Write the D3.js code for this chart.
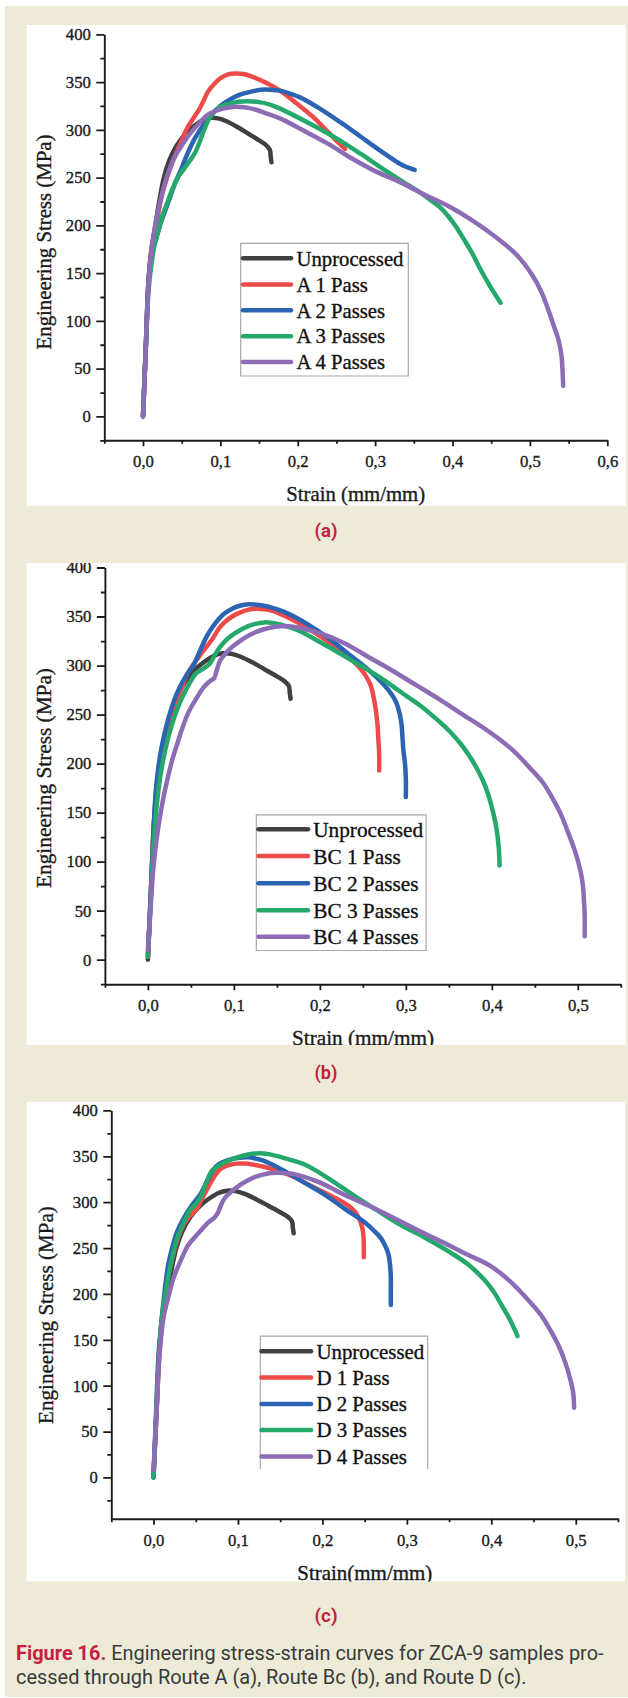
<!DOCTYPE html>
<html><head><meta charset="utf-8">
<script src="https://cdn.jsdelivr.net/npm/d3@7"></script>
<style>html,body{margin:0;padding:0;background:#fff;} svg{display:block;}</style>
</head><body>
<svg id="fig" width="628" height="1698"></svg>
<script>
// ---------- DATA ----------
const stressTicks = [0, 50, 100, 150, 200, 250, 300, 350, 400];
const stressMinor = [-25, 25, 75, 125, 175, 225, 275, 325, 375];
const strainTicksA = [0, 0.1, 0.2, 0.3, 0.4, 0.5, 0.6];
const strainMinorA = [-0.05, 0.05, 0.15, 0.25, 0.35, 0.45, 0.55];
const strainTicksBC = [0, 0.1, 0.2, 0.3, 0.4, 0.5];
const strainMinorBC = [-0.05, 0.05, 0.15, 0.25, 0.35, 0.45, 0.55];

const namesA = ["Unprocessed", "A 1 Pass", "A 2 Passes", "A 3 Passes", "A 4 Passes"];
const namesB = ["Unprocessed", "BC 1 Pass", "BC 2 Passes", "BC 3 Passes", "BC 4 Passes"];
const namesD = ["Unprocessed", "D 1 Pass", "D 2 Passes", "D 3 Passes", "D 4 Passes"];
const colors = ["#404040", "#ef4a4a", "#2b64b3", "#25a86b", "#8d6cb6"];

// [strain, stress MPa]
const unprocessed = [[0,0],[0.004,80],[0.007,140],[0.011,175],[0.016,200],[0.021,225],[0.027,250],[0.034,268],[0.043,283],[0.055,296],[0.066,304],[0.077,310],[0.087,312.5],[0.097,312],[0.108,309],[0.122,303],[0.136,296],[0.15,289],[0.159,284],[0.164,279],[0.165,272],[0.166,266]];

const a1 = [[0,0],[0.004,80],[0.007,140],[0.011,175],[0.018,205],[0.024,230],[0.031,250],[0.04,270],[0.048,285],[0.056,300],[0.065,312],[0.073,322],[0.078,330],[0.084,340],[0.092,348],[0.1,354],[0.11,358],[0.12,359],[0.13,358.5],[0.14,356],[0.157,350],[0.177,341],[0.198,328],[0.219,314],[0.24,297],[0.252,287],[0.261,280]];
const a2 = [[0,0],[0.004,80],[0.007,140],[0.011,170],[0.017,186],[0.024,205],[0.033,225],[0.041,243],[0.05,260],[0.058,276],[0.067,291],[0.079,306],[0.09,317],[0.1,325],[0.113,332],[0.126,337],[0.14,340],[0.152,342],[0.165,342],[0.177,341],[0.19,338],[0.203,334],[0.229,322],[0.255,308],[0.281,293],[0.307,278],[0.333,264],[0.351,258]];
const a3 = [[0,0],[0.004,75],[0.007,130],[0.011,160],[0.015,180],[0.02,195],[0.025,210],[0.032,225],[0.039,240],[0.045,250],[0.052,258],[0.06,267],[0.068,277],[0.073,287],[0.079,300],[0.085,311],[0.092,319],[0.1,324],[0.11,327],[0.123,329.5],[0.136,330],[0.15,329],[0.162,327],[0.175,323],[0.188,318],[0.219,305],[0.25,291],[0.281,275],[0.312,258],[0.335,246],[0.355,236],[0.374,225],[0.385,218],[0.395,209],[0.405,198],[0.415,185],[0.426,170],[0.436,154],[0.448,137],[0.462,119]];
const a4 = [[0,0],[0.003,60],[0.006,120],[0.009,160],[0.013,185],[0.017,205],[0.021,220],[0.027,240],[0.033,256],[0.04,270],[0.048,281],[0.057,292],[0.066,301],[0.075,309],[0.084,316],[0.095,320],[0.105,322.5],[0.115,324],[0.126,324],[0.136,323],[0.146,321],[0.16,317],[0.177,312],[0.208,299],[0.24,285],[0.27,270],[0.302,256],[0.333,245],[0.364,232],[0.395,220],[0.426,205],[0.457,187],[0.483,169],[0.503,148],[0.515,130],[0.524,111],[0.532,92],[0.537,80],[0.541,62],[0.542,50],[0.543,32]];

const b1 = [[0,3],[0.003,60],[0.006,120],[0.009,165],[0.013,195],[0.018,215],[0.024,238],[0.03,255],[0.037,272],[0.044,288],[0.052,300],[0.061,311],[0.068,319],[0.075,327],[0.082,337],[0.089,344],[0.098,350],[0.107,354],[0.117,357],[0.126,358],[0.135,357.5],[0.144,356],[0.163,349],[0.186,338],[0.21,324],[0.233,309],[0.245,299],[0.253,290],[0.259,280],[0.262,270],[0.265,255],[0.267,240],[0.268,225],[0.269,210],[0.269,193]];
const b2 = [[0,4],[0.003,60],[0.006,120],[0.009,170],[0.012,195],[0.016,217],[0.022,240],[0.028,258],[0.033,270],[0.04,283],[0.047,293],[0.054,302],[0.061,316],[0.068,329],[0.075,339],[0.082,347],[0.089,353],[0.098,358],[0.107,361],[0.117,362.5],[0.126,362],[0.135,361],[0.144,359],[0.163,353],[0.186,342],[0.21,328],[0.233,312],[0.256,296],[0.275,280],[0.284,270],[0.289,262],[0.293,250],[0.295,240],[0.296,228],[0.297,215],[0.299,200],[0.3,185],[0.3,166]];
const b3 = [[0,3],[0.003,55],[0.006,110],[0.01,155],[0.015,190],[0.021,217],[0.028,240],[0.037,262],[0.046,278],[0.056,292],[0.065,297],[0.072,302],[0.078,311],[0.084,319],[0.091,326],[0.098,331],[0.107,336],[0.116,340],[0.125,342.5],[0.135,344],[0.145,343.5],[0.154,342],[0.177,335],[0.2,324],[0.224,312],[0.247,300],[0.27,288],[0.294,273],[0.317,259],[0.34,242],[0.352,232],[0.363,221],[0.373,209],[0.382,196],[0.39,182],[0.396,168],[0.401,152],[0.405,136],[0.408,115],[0.409,96]];
const b4 = [[0,10],[0.003,50],[0.006,90],[0.009,115],[0.013,140],[0.018,165],[0.023,185],[0.028,203],[0.033,217],[0.04,236],[0.047,252],[0.056,266],[0.065,278],[0.072,284],[0.077,287],[0.08,295],[0.084,305],[0.091,313],[0.098,319],[0.107,325],[0.116,330],[0.125,334],[0.135,337],[0.145,339],[0.154,340],[0.163,340],[0.172,339],[0.2,333],[0.228,323],[0.256,309],[0.284,295],[0.312,280],[0.34,265],[0.368,249],[0.396,233],[0.424,214],[0.447,193],[0.46,180],[0.471,164],[0.481,147],[0.489,129],[0.497,110],[0.503,91],[0.506,75],[0.507,63],[0.508,45],[0.508,24]];

const d1 = [[0,2],[0.003,60],[0.006,120],[0.009,165],[0.013,195],[0.017,218],[0.023,242],[0.029,261],[0.036,276],[0.043,285],[0.05,291],[0.057,303],[0.065,317],[0.072,328],[0.079,336],[0.088,340],[0.098,342],[0.108,342],[0.117,341],[0.141,336],[0.165,328],[0.188,317],[0.212,306],[0.231,296],[0.239,289],[0.243,283],[0.246,276],[0.248,268],[0.249,255],[0.249,240]];
const d2 = [[0,0],[0.003,70],[0.006,135],[0.01,175],[0.014,210],[0.017,230],[0.022,250],[0.028,268],[0.036,283],[0.045,296],[0.055,308],[0.064,324],[0.074,339],[0.083,344],[0.093,347],[0.102,348.5],[0.112,349],[0.121,347.5],[0.131,345],[0.155,334],[0.179,321],[0.203,308],[0.226,293],[0.25,278],[0.262,268],[0.269,261],[0.274,253],[0.278,244],[0.28,232],[0.281,218],[0.281,203],[0.281,188]];
const d3s = [[0,0],[0.003,65],[0.006,125],[0.01,175],[0.015,205],[0.021,235],[0.027,258],[0.035,276],[0.043,291],[0.05,298],[0.055,304],[0.062,320],[0.069,334],[0.078,340],[0.088,345],[0.1,349],[0.112,352],[0.121,353],[0.131,353],[0.143,351],[0.155,348],[0.179,341],[0.207,326],[0.236,308],[0.265,291],[0.293,275],[0.322,261],[0.35,246],[0.374,231],[0.393,214],[0.403,202],[0.412,188],[0.422,172],[0.431,154]];
const d4 = [[0,8],[0.003,60],[0.005,100],[0.007,132],[0.012,175],[0.018,198],[0.024,218],[0.032,236],[0.041,253],[0.053,266],[0.065,278],[0.072,283],[0.076,288],[0.08,297],[0.084,304],[0.093,312],[0.103,319],[0.112,324],[0.122,328],[0.134,331],[0.146,332],[0.158,331.5],[0.169,330],[0.198,321],[0.226,308],[0.255,296],[0.284,283],[0.312,270],[0.341,257],[0.369,244],[0.398,231],[0.422,214],[0.445,192],[0.458,178],[0.469,162],[0.48,143],[0.488,124],[0.494,105],[0.497,92],[0.498,76]];

// ---------- LAYOUT ----------
const SERIF = "'Liberation Serif','Times New Roman',Times,serif";
const SANS = "Roboto,'Noto Sans',sans-serif";
const CRIMSON = "#c61f40";
const INK = "#1a1a1a";
const svg = d3.select("#fig");
svg.append("rect").attr("x", 5).attr("y", 6).attr("width", 623).attr("height", 1691).attr("fill", "#edebd7");

// scale a text's font so it spans the wanted width
function fitSize(textSel, base, target) {
  const w = textSel.node().getComputedTextLength();
  return w > 0 ? base * target / w : base;
}
// slight thickening to match the scanned figure's heavy serif text
function ink(sel) { return sel.attr("stroke", INK).attr("stroke-width", 0.35).attr("paint-order", "stroke"); }

const panels = [
  {id:"a", box:[26.7,25,625.7,505.7], xDom:[-0.05,0.6], xR:[104.3,607.3], yDom:[-25,400], yR:[440.3,34.3],
   xMaj:strainTicksA, xMin:strainMinorA, yTitle:[44,242], xTitle:[355.7,494.2], xText:"Strain (mm/mm)",
   yTitleW:215, xTitleW:139, legW:107,
   leg:{x0:240.7,y0:243.3,x1:408.3,y1:376,rows:[258.3,284.4,310.3,336.2,362],lx0:243,lx1:291,tx:296.5,bottom:true},
   series:[unprocessed,a1,a2,a3,a4], names:namesA, label:"(a)", labelY:530.6},
  {id:"b", box:[26.7,563,625.7,1045], xDom:[-0.05,0.55], xR:[104.9,620.8], yDom:[-25,400], yR:[984.2,567.5],
   xMaj:strainTicksBC, xMin:strainMinorBC, yTitle:[43.3,778], xTitle:[363,1037.6], xText:"Strain (mm/mm)",
   yTitleW:220, xTitleW:142, legW:110,
   leg:{x0:256.3,y0:814.8,x1:426.1,y1:950.5,rows:[829.3,856.1,883.3,910.2,936.7],lx0:258.5,lx1:308,tx:313.2,bottom:true},
   series:[unprocessed,b1,b2,b3,b4], names:namesB, label:"(b)", labelY:1072},
  {id:"c", box:[26.7,1102,625,1581.5], xDom:[-0.05,0.55], xR:[111.3,618], yDom:[-45,400], yR:[1518.7,1110.4],
   xMaj:strainTicksBC, xMin:strainMinorBC, yTitle:[46,1315], xTitle:[364.8,1572.7], xText:"Strain(mm/mm)",
   yTitleW:218, xTitleW:135, legW:108,
   leg:{x0:260.3,y0:1336.2,x1:427.7,y1:1469.3,rows:[1351.2,1377.6,1404,1430,1456.4],lx0:261.5,lx1:311,tx:316.4,bottom:false},
   series:[unprocessed,d1,d2,d3s,d4], names:namesD, label:"(c)", labelY:1615}
];

const fmtX = d => d3.format(".1f")(d).replace(".", ",");

panels.forEach(p => {
  const [bx0, by0, bx1, by1] = p.box;
  svg.append("clipPath").attr("id", "clip-" + p.id)
    .append("rect").attr("x", bx0).attr("y", by0).attr("width", bx1 - bx0).attr("height", by1 - by0);
  svg.append("rect").attr("x", bx0).attr("y", by0).attr("width", bx1 - bx0).attr("height", by1 - by0).attr("fill", "#fff");
  const g = svg.append("g").attr("clip-path", "url(#clip-" + p.id + ")");

  const x = d3.scaleLinear().domain(p.xDom).range(p.xR);
  const y = d3.scaleLinear().domain(p.yDom).range(p.yR);

  // minor ticks
  g.append("g").attr("transform", `translate(0,${p.yR[0]})`)
    .call(d3.axisBottom(x).tickValues(p.xMin).tickSize(3.5).tickFormat("").tickSizeOuter(0))
    .call(s => s.select(".domain").remove());
  g.append("g").attr("transform", `translate(${p.xR[0]},0)`)
    .call(d3.axisLeft(y).tickValues(stressMinor.filter(v => v >= p.yDom[0])).tickSize(4).tickFormat("").tickSizeOuter(0))
    .call(s => s.select(".domain").remove());

  // major axes
  const xa = g.append("g").attr("transform", `translate(0,${p.yR[0]})`)
    .call(d3.axisBottom(x).tickValues(p.xMaj).tickSize(6).tickPadding(9).tickFormat(fmtX).tickSizeOuter(0));
  const ya = g.append("g").attr("transform", `translate(${p.xR[0]},0)`)
    .call(d3.axisLeft(y).tickValues(stressTicks).tickSize(8).tickPadding(5.5).tickFormat(d3.format("d")).tickSizeOuter(0));
  [xa, ya].forEach(a => {
    a.attr("font-family", SERIF).attr("font-size", 17);
    a.selectAll("path,line").attr("stroke", INK).attr("stroke-width", 1.9);
    a.selectAll("text").attr("fill", INK).attr("font-size", 17);
  });
  const t400 = ya.selectAll(".tick text").filter(d => d === 400);
  const tickFs = fitSize(t400, 17, 25);
  xa.selectAll("text").attr("font-size", tickFs).call(ink);
  ya.selectAll("text").attr("font-size", tickFs).call(ink);
  g.selectAll(".tick line").attr("stroke", INK).attr("stroke-width", 1.8);

  // curves
  const line = d3.line().x(d => x(d[0])).y(d => y(d[1])).curve(d3.curveCatmullRom.alpha(0.5));
  p.series.forEach((s, i) => {
    g.append("path").datum(s).attr("d", line).attr("fill", "none")
      .attr("stroke", colors[i]).attr("stroke-width", 4.5)
      .attr("stroke-linecap", "round").attr("stroke-linejoin", "round");
  });

  // titles
  const yt = g.append("text").attr("transform", `translate(${p.yTitle[0]},${p.yTitle[1]}) rotate(-90)`)
    .attr("text-anchor", "middle").attr("dy", "0.35em")
    .attr("font-family", SERIF).attr("font-size", 21).attr("fill", INK)
    .text("Engineering Stress (MPa)");
  yt.attr("font-size", fitSize(yt, 21, p.yTitleW)).call(ink);
  const xt = g.append("text").attr("x", p.xTitle[0]).attr("y", p.xTitle[1]).attr("dy", "0.35em")
    .attr("text-anchor", "middle").attr("font-family", SERIF).attr("font-size", 21).attr("fill", INK)
    .text(p.xText);
  xt.attr("font-size", fitSize(xt, 21, p.xTitleW)).call(ink);

  // legend
  const L = p.leg;
  const pathD = L.bottom
    ? `M${L.x0},${L.y0}H${L.x1}V${L.y1}H${L.x0}Z`
    : `M${L.x0},${L.y1}V${L.y0}H${L.x1}V${L.y1}`;
  g.append("path").attr("d", pathD).attr("fill", L.bottom ? "#fff" : "none")
    .attr("stroke", "#a8a8a8").attr("stroke-width", 1.2);
  const legTexts = [];
  p.names.forEach((n, i) => {
    g.append("line").attr("x1", L.lx0).attr("x2", L.lx1).attr("y1", L.rows[i]).attr("y2", L.rows[i])
      .attr("stroke", colors[i]).attr("stroke-width", 4.5).attr("stroke-linecap", "round");
    legTexts.push(g.append("text").attr("x", L.tx).attr("y", L.rows[i]).attr("dy", "0.35em")
      .attr("font-family", SERIF).attr("font-size", 20).attr("fill", "#111").text(n));
  });
  const legFs = fitSize(legTexts[0], 20, p.legW);
  legTexts.forEach(t => t.attr("font-size", legFs).call(ink));

  // panel label
  const lab = svg.append("text").attr("x", 326).attr("y", p.labelY).attr("dy", "0.36em").attr("text-anchor", "middle")
    .attr("font-family", SANS).attr("font-weight", 700).attr("font-size", 19).attr("fill", CRIMSON)
    .text(p.label);
  lab.attr("font-size", fitSize(lab, 19, 23));
});

// caption
const cap1 = svg.append("text").attr("x", 16).attr("y", 1660).attr("font-family", SANS).attr("font-size", 17);
cap1.append("tspan").attr("fill", CRIMSON).attr("font-weight", 700).text("Figure 16.");
cap1.append("tspan").attr("fill", "#3a3a3a").text(" Engineering stress-strain curves for ZCA-9 samples pro-");
const cap2 = svg.append("text").attr("x", 16).attr("y", 1683.5).attr("font-family", SANS).attr("font-size", 17)
  .attr("fill", "#3a3a3a").text("cessed through Route A (a), Route Bc (b), and Route D (c).");
const w1 = cap1.node().getComputedTextLength();
if (w1 > 0) {
  const fs = 17 * 588 / w1;
  cap1.attr("font-size", fs);
  cap2.attr("font-size", fs);
}
</script>
</body></html>
